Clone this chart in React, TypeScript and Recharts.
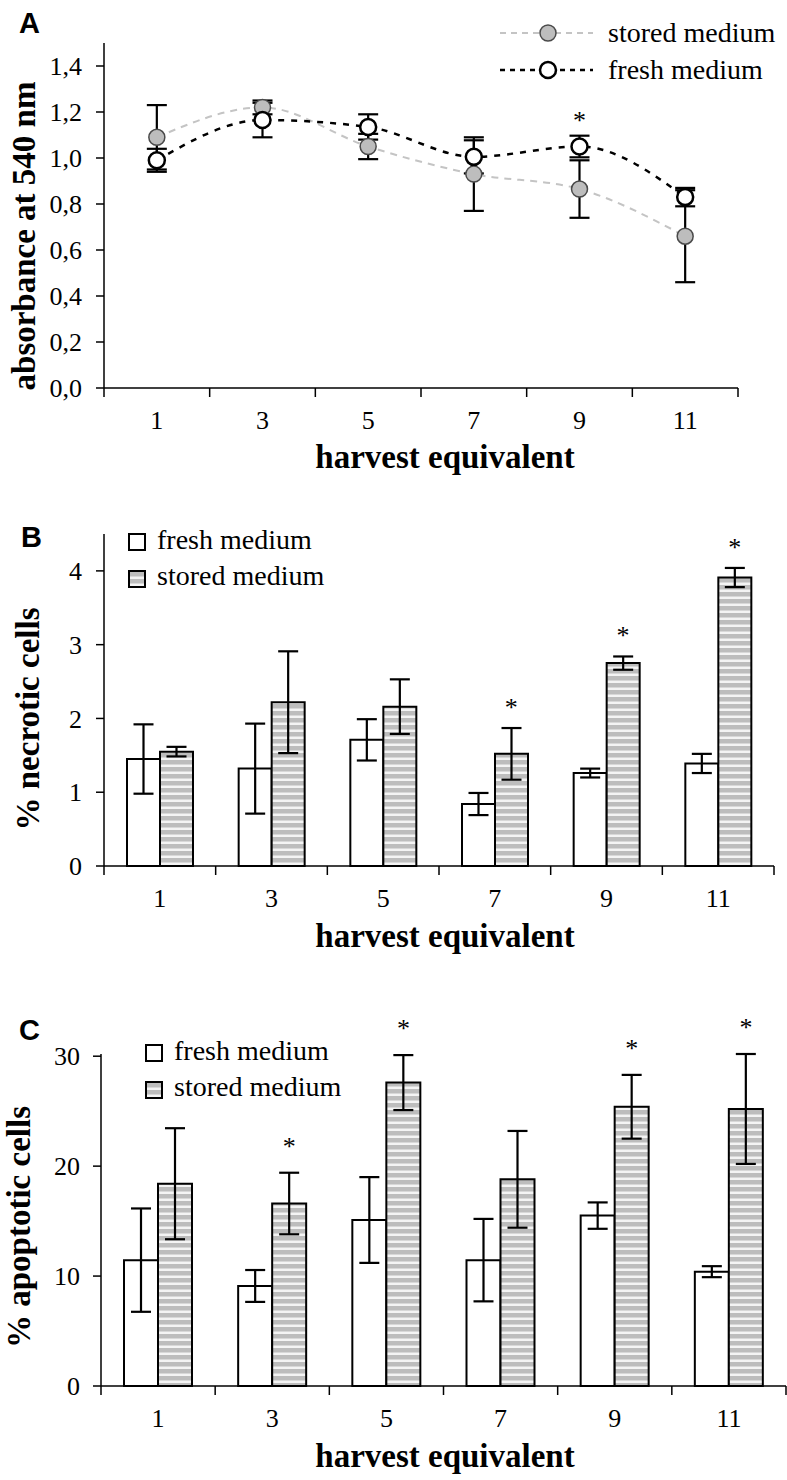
import React from "react";
import { ComposedChart, Line, Bar, XAxis, YAxis, ErrorBar, Legend } from "recharts";

const categories = ["1", "3", "5", "7", "9", "11"];

// panel A: absorbance at 540 nm
const storedAbs = [1.09, 1.22, 1.05, 0.93, 0.865, 0.66];
const storedAbsErr = [0.14, 0.03, 0.055, 0.16, 0.125, 0.2];
const freshAbs = [0.99, 1.165, 1.135, 1.005, 1.05, 0.83];
const freshAbsErr = [0.05, 0.075, 0.055, 0.072, 0.047, 0.04];
const sigAbs = [false, false, false, false, true, false];
const absTicks = [0, 0.2, 0.4, 0.6, 0.8, 1.0, 1.2, 1.4];

// panel B: % necrotic cells
const freshNec = [1.45, 1.32, 1.71, 0.84, 1.26, 1.39];
const freshNecErr = [0.47, 0.61, 0.28, 0.15, 0.06, 0.13];
const storedNec = [1.55, 2.22, 2.16, 1.52, 2.75, 3.91];
const storedNecErr = [0.065, 0.69, 0.37, 0.35, 0.09, 0.13];
const sigNec = [false, false, false, true, true, true];
const necTicks = [0, 1, 2, 3, 4];

// panel C: % apoptotic cells
const freshApo = [11.45, 9.1, 15.1, 11.45, 15.5, 10.4];
const freshApoErr = [4.7, 1.45, 3.9, 3.75, 1.2, 0.5];
const storedApo = [18.4, 16.6, 27.6, 18.8, 25.4, 25.2];
const storedApoErr = [5.05, 2.8, 2.5, 4.4, 2.9, 5.0];
const sigApo = [false, true, true, false, true, true];
const apoTicks = [0, 10, 20, 30];

const SERIF = "'Liberation Serif', 'Times New Roman', serif";
const SANS = "'Liberation Sans', Arial, sans-serif";
const X_LABEL_CX = 445;

const rowsA = categories.map((cat, i) => ({
  cat,
  stored: storedAbs[i],
  storedErr: storedAbsErr[i],
  fresh: freshAbs[i],
  freshErr: freshAbsErr[i],
  star: sigAbs[i] ? freshAbs[i] + freshAbsErr[i] : null,
}));

const barRows = (fresh: number[], freshErr: number[], stored: number[], storedErr: number[], sig: boolean[]) =>
  categories.map((cat, i) => ({
    cat,
    fresh: fresh[i],
    freshErr: freshErr[i],
    stored: stored[i],
    storedErr: storedErr[i],
    star: sig[i] ? stored[i] + storedErr[i] : null,
  }));

const rowsB = barRows(freshNec, freshNecErr, storedNec, storedNecErr, sigNec);
const rowsC = barRows(freshApo, freshApoErr, storedApo, storedApoErr, sigApo);

// x ticks sit on the category boundaries, labels in the middle
const boundaryTick = (half: number, count: number) => (props: any) => {
  const { x, y, payload } = props;
  const index = props.index ?? payload?.index;
  return (
    <g>
      <line x1={x - half} x2={x - half} y1={y} y2={y + 9} stroke="#000" strokeWidth={1.5} />
      {index === count - 1 && <line x1={x + half} x2={x + half} y1={y} y2={y + 9} stroke="#000" strokeWidth={1.5} />}
      <text x={x} y={y + 41} textAnchor="middle" fontFamily={SERIF} fontSize={26} fill="#000">
        {payload.value}
      </text>
    </g>
  );
};

const xLabel = (dy: number) => (props: any) => {
  const vb = props.viewBox || {};
  return (
    <text x={X_LABEL_CX} y={(vb.y ?? 0) + dy} textAnchor="middle" fontFamily={SERIF} fontWeight="bold" fontSize={33} fill="#000">
      harvest equivalent
    </text>
  );
};

const yLabel = (text: string, x: number, cy: number) => () => (
  <text x={x} y={cy} transform={`rotate(-90, ${x}, ${cy})`} textAnchor="middle" fontFamily={SERIF} fontWeight="bold" fontSize={33} fill="#000">
    {text}
  </text>
);

const starDot = (dx: number, dy: number) => (props: any) => {
  const { cx, cy, index } = props;
  if (cx == null || cy == null || props.value == null) return <g key={`s${index}`} />;
  return (
    <text key={`s${index}`} x={cx + dx} y={cy + dy} textAnchor="middle" fontFamily={SERIF} fontSize={26} fill="#000">
      *
    </text>
  );
};

const axisStyle = { stroke: "#000", strokeWidth: 1.5 };
const tickFont = { fontFamily: SERIF, fontSize: 26, fill: "#000" };
const legendOrderA = ["stored", "fresh"];

const lineStyles: Record<string, any> = {
  stored: { stroke: "#c4c4c4", width: 2, dash: "6 5", fill: "#bdbdbd", dotStroke: "#4a4a4a", dotWidth: 1.5 },
  fresh: { stroke: "#000", width: 2.5, dash: "5 5", fill: "#fff", dotStroke: "#000", dotWidth: 2.5 },
};

function LineLegend(props: any) {
  const items = (props.payload || [])
    .filter((p: any) => legendOrderA.includes(p.dataKey))
    .sort((a: any, b: any) => legendOrderA.indexOf(a.dataKey) - legendOrderA.indexOf(b.dataKey));
  return (
    <svg width={292} height={90}>
      {items.map((p: any, i: number) => {
        const st = lineStyles[p.dataKey];
        const cy = 28 + i * 37;
        return (
          <g key={p.dataKey}>
            <line x1={5} x2={98} y1={cy} y2={cy} stroke={st.stroke} strokeWidth={st.width} strokeDasharray={st.dash} />
            <circle cx={53} cy={cy} r={8} fill={st.fill} stroke={st.dotStroke} strokeWidth={st.dotWidth} />
            <text x={113} y={cy + 9} fontFamily={SERIF} fontSize={28} fill="#000">
              {p.value}
            </text>
          </g>
        );
      })}
    </svg>
  );
}

const barLegend = (patternId: string) => (props: any) => {
  const items = (props.payload || []).filter((p: any) => p.dataKey === "stored" || p.dataKey === "fresh");
  return (
    <svg width={240} height={84}>
      <defs>
        <pattern id={`${patternId}-lg`} width={8} height={7} patternUnits="userSpaceOnUse" y={1}>
          <rect width={8} height={7} fill="#f4f4f4" />
          <rect width={8} height={4.5} fill="#bdbdbd" />
        </pattern>
      </defs>
      {items.map((p: any, i: number) => (
        <g key={p.dataKey}>
          <rect
            x={9}
            y={12 + i * 37}
            width={16}
            height={16}
            fill={p.dataKey === "stored" ? `url(#${patternId}-lg)` : "#fff"}
            stroke="#000"
            strokeWidth={2}
          />
          <text x={37} y={27 + i * 36} fontFamily={SERIF} fontSize={28} fill="#000">
            {p.value}
          </text>
        </g>
      ))}
    </svg>
  );
};

function PanelA() {
  const half = (738 - 104) / 12;
  return (
    <ComposedChart width={787} height={480} data={rowsA} margin={{ top: 43, right: 49, bottom: 32, left: 0 }}>
      <XAxis
        dataKey="cat"
        scale="band"
        height={60}
        interval={0}
        axisLine={axisStyle}
        tickLine={false}
        tickSize={0}
        tickMargin={0}
        tick={boundaryTick(half, categories.length)}
        label={xLabel(80)}
      />
      <YAxis
        width={104}
        domain={[0, 1.5]}
        ticks={absTicks}
        tickFormatter={(v: number) => v.toFixed(1).replace(".", ",")}
        axisLine={axisStyle}
        tickLine={axisStyle}
        tickSize={8}
        tickMargin={14}
        tick={tickFont}
        label={yLabel("absorbance at 540 nm", 35, 236)}
      />
      <Legend
        layout="vertical"
        align="center"
        verticalAlign="middle"
        content={LineLegend}
        wrapperStyle={{ left: 495, top: 5, width: 292, height: 90 }}
      />
      <Line
        dataKey="stored"
        name="stored medium"
        type="monotone"
        stroke="#c4c4c4"
        strokeWidth={2}
        strokeDasharray="7 6"
        dot={{ r: 8, fill: "#bdbdbd", stroke: "#4a4a4a", strokeWidth: 1.5, strokeDasharray: "none" }}
        activeDot={false}
        isAnimationActive={false}
      >
        <ErrorBar dataKey="storedErr" width={10} stroke="#000" strokeWidth={2.2} direction="y" />
      </Line>
      <Line
        dataKey="fresh"
        name="fresh medium"
        type="monotone"
        stroke="#000"
        strokeWidth={2.5}
        strokeDasharray="6 7"
        dot={{ r: 8, fill: "#fff", stroke: "#000", strokeWidth: 2.5, strokeDasharray: "none" }}
        activeDot={false}
        isAnimationActive={false}
      >
        <ErrorBar dataKey="freshErr" width={10} stroke="#000" strokeWidth={2.2} direction="y" />
      </Line>
      <Line dataKey="star" stroke="none" legendType="none" dot={starDot(0, -7)} activeDot={false} isAnimationActive={false} />
    </ComposedChart>
  );
}

type BarPanelProps = {
  rows: any[];
  height: number;
  margin: { top: number; right: number; bottom: number; left: number };
  yWidth: number;
  yMax: number;
  ticks: number[];
  barSize: number;
  yTitle: string;
  yTitleX: number;
  yTitleCY: number;
  legendPos: { left: number; top: number };
  starDy: number;
  tickMargin: number;
  patternId: string;
};

function BarPanel(p: BarPanelProps) {
  const plotW = 787 - p.margin.right - p.margin.left - p.yWidth;
  const half = plotW / categories.length / 2;
  return (
    <ComposedChart width={787} height={p.height} data={p.rows} margin={p.margin} barGap={0} barSize={p.barSize}>
      <defs>
        <pattern id={p.patternId} width={8} height={7} patternUnits="userSpaceOnUse">
          <rect width={8} height={7} fill="#f4f4f4" />
          <rect width={8} height={4.5} fill="#bdbdbd" />
        </pattern>
      </defs>
      <XAxis
        dataKey="cat"
        scale="band"
        height={60}
        interval={0}
        axisLine={axisStyle}
        tickLine={false}
        tickSize={0}
        tickMargin={0}
        tick={boundaryTick(half, categories.length)}
        label={xLabel(81)}
      />
      <YAxis
        width={p.yWidth}
        domain={[0, p.yMax]}
        ticks={p.ticks}
        axisLine={axisStyle}
        tickLine={axisStyle}
        tickSize={8}
        tickMargin={p.tickMargin}
        tick={tickFont}
        label={yLabel(p.yTitle, p.yTitleX, p.yTitleCY)}
      />
      <Legend
        layout="vertical"
        align="center"
        verticalAlign="middle"
        content={barLegend(p.patternId)}
        wrapperStyle={{ left: p.legendPos.left, top: p.legendPos.top, width: 240, height: 84 }}
      />
      <Bar dataKey="fresh" name="fresh medium" fill="#fff" stroke="#000" strokeWidth={2} isAnimationActive={false}>
        <ErrorBar dataKey="freshErr" width={10} stroke="#000" strokeWidth={2.2} direction="y" />
      </Bar>
      <Bar dataKey="stored" name="stored medium" fill={`url(#${p.patternId})`} stroke="#000" strokeWidth={2} isAnimationActive={false}>
        <ErrorBar dataKey="storedErr" width={10} stroke="#000" strokeWidth={2.2} direction="y" />
      </Bar>
      <Line dataKey="star" stroke="none" legendType="none" dot={starDot(p.barSize / 2, p.starDy)} activeDot={false} isAnimationActive={false} />
    </ComposedChart>
  );
}

export default function App() {
  return (
    <div style={{ position: "absolute", left: 0, top: 0, width: 787, height: 1480, background: "#fff" }}>
      <div style={{ position: "absolute", left: 0, top: 0 }}>
        <PanelA />
      </div>
      <div style={{ position: "absolute", left: 0, top: 480 }}>
        <BarPanel
          rows={rowsB}
          height={490}
          margin={{ top: 54, right: 13, bottom: 44, left: 0 }}
          yWidth={104}
          yMax={4.5}
          ticks={necTicks}
          barSize={33}
          yTitle="% necrotic cells"
          yTitleX={39}
          yTitleCY={239}
          legendPos={{ left: 120, top: 42 }}
          starDy={-12}
          tickMargin={14}
          patternId="stripesB"
        />
      </div>
      <div style={{ position: "absolute", left: 0, top: 970 }}>
        <BarPanel
          rows={rowsC}
          height={510}
          margin={{ top: 84, right: 1, bottom: 34, left: 0 }}
          yWidth={101}
          yMax={30}
          ticks={apoTicks}
          barSize={34}
          yTitle="% apoptotic cells"
          yTitleX={30}
          yTitleCY={257}
          legendPos={{ left: 137, top: 63 }}
          starDy={-18}
          tickMargin={13}
          patternId="stripesC"
        />
      </div>
      <svg style={{ position: "absolute", left: 0, top: 0, pointerEvents: "none" }} width={787} height={1480}>
        <text x={19} y={33} fontFamily={SANS} fontWeight="bold" fontSize={29} fill="#000">A</text>
        <text x={21} y={547} fontFamily={SANS} fontWeight="bold" fontSize={29} fill="#000">B</text>
        <text x={19} y={1040} fontFamily={SANS} fontWeight="bold" fontSize={29} fill="#000">C</text>
      </svg>
    </div>
  );
}
